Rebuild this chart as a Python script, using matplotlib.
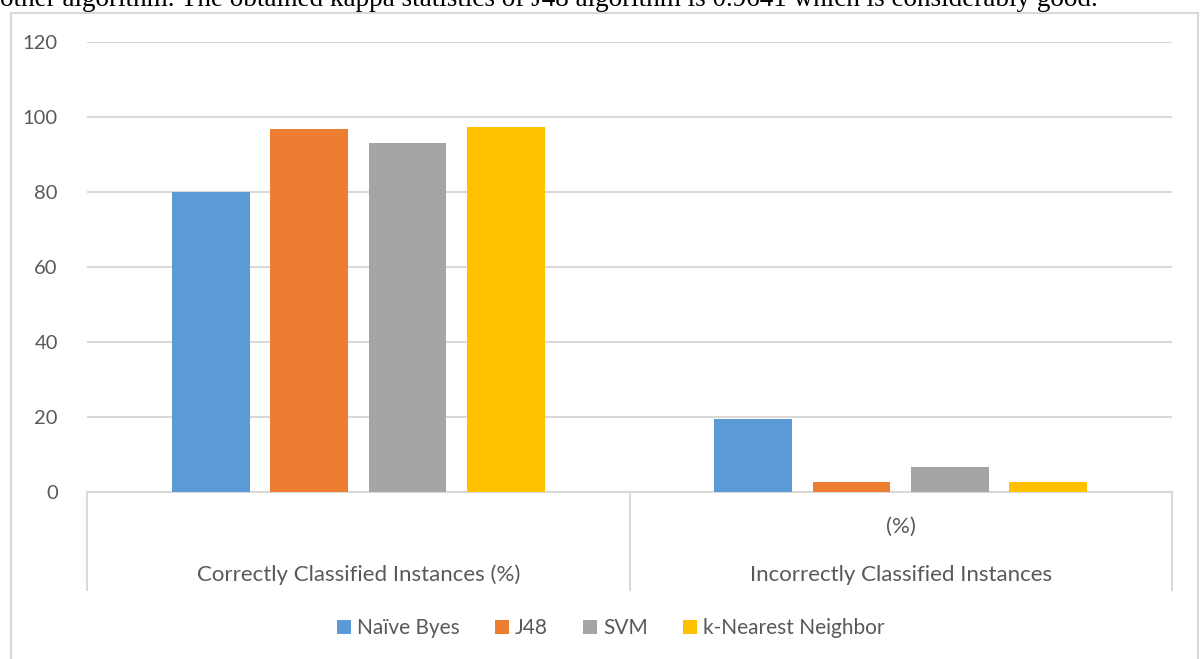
import matplotlib.pyplot as plt
import matplotlib.patches as mpatches
import numpy as np

plt.rcParams['font.family'] = ['Lato', 'DejaVu Sans']

categories = ['Correctly Classified Instances (%)', 'Incorrectly Classified Instances']
algorithms = ['Naïve Byes', 'J48', 'SVM', 'k-Nearest Neighbor']
naive_bayes = [80.1, 19.5]
j48 = [96.8, 2.8]
svm = [93.1, 6.8]
knn = [97.3, 2.8]
colors = ['#5b9bd5', '#ed7d31', '#a5a5a5', '#ffc000']
yticks = [0, 20, 40, 60, 80, 100, 120]

fig = plt.figure(figsize=(12.03, 6.59), dpi=100)

# clipped caption text from the page above the chart
fig.text(0.0, 1 - 6 / 659, 'other algorithm. The obtained kappa statistics of J48 algorithm is 0.9641 which is considerably good.',
         family='Liberation Serif', fontsize=19.5, va='baseline', ha='left', color='black')

# outer chart border
border = mpatches.Rectangle((11 / 1203, -0.05), (1198 - 11) / 1203, 1 - 13 / 659 + 0.05,
                            transform=fig.transFigure, fill=False, edgecolor='#d9d9d9', linewidth=1.5)
fig.patches.append(border)

ax = fig.add_axes([87 / 1203, 1 - 492 / 659, (1172 - 87) / 1203, (492 - 42) / 659])

x = np.arange(len(categories))
width = 0.1436
step = 0.1814
series = [naive_bayes, j48, svm, knn]
for i, (vals, c, name) in enumerate(zip(series, colors, algorithms)):
    ax.bar(x + (i - 1.5) * step, vals, width, color=c, label=name, zorder=3)

ax.set_xlim(-0.5, 1.5)
ax.set_ylim(0, 120)
ax.set_yticks(yticks)
ax.yaxis.grid(True, color='#d9d9d9', linewidth=1.5, zorder=0)
ax.set_axisbelow(True)
for s in ['top', 'right', 'left']:
    ax.spines[s].set_visible(False)
ax.spines['bottom'].set_color('#d9d9d9')
ax.spines['bottom'].set_linewidth(1.5)
ax.tick_params(axis='y', length=0, pad=21, labelsize=14.5, labelcolor='#595959')
ax.tick_params(axis='x', length=0)
ax.set_xticks([])

# category separators below the axis
tr = ax.get_xaxis_transform()
for xs in [-0.5, 0.5, 1.5]:
    ax.plot([xs, xs], [0, -98 / 450], transform=tr, color='#d9d9d9', linewidth=1.5, clip_on=False)

ax.text(0, -(575 - 492) / 450, categories[0], transform=tr, ha='center', va='center',
        fontsize=16, color='#595959')
ax.text(1, -(527 - 492) / 450, '(%)', transform=tr, ha='center', va='center',
        fontsize=16, color='#595959')
ax.text(1, -(575 - 492) / 450, categories[1], transform=tr, ha='center', va='center',
        fontsize=16, color='#595959')

leg = fig.legend(loc='center', bbox_to_anchor=(611 / 1203, 1 - 628 / 659), ncol=4, frameon=False,
                 fontsize=15, handlelength=0.65, handleheight=0.65, handletextpad=0.3, columnspacing=1.7)
for t in leg.get_texts():
    t.set_color('#595959')

plt.savefig('out.png', dpi=100)
